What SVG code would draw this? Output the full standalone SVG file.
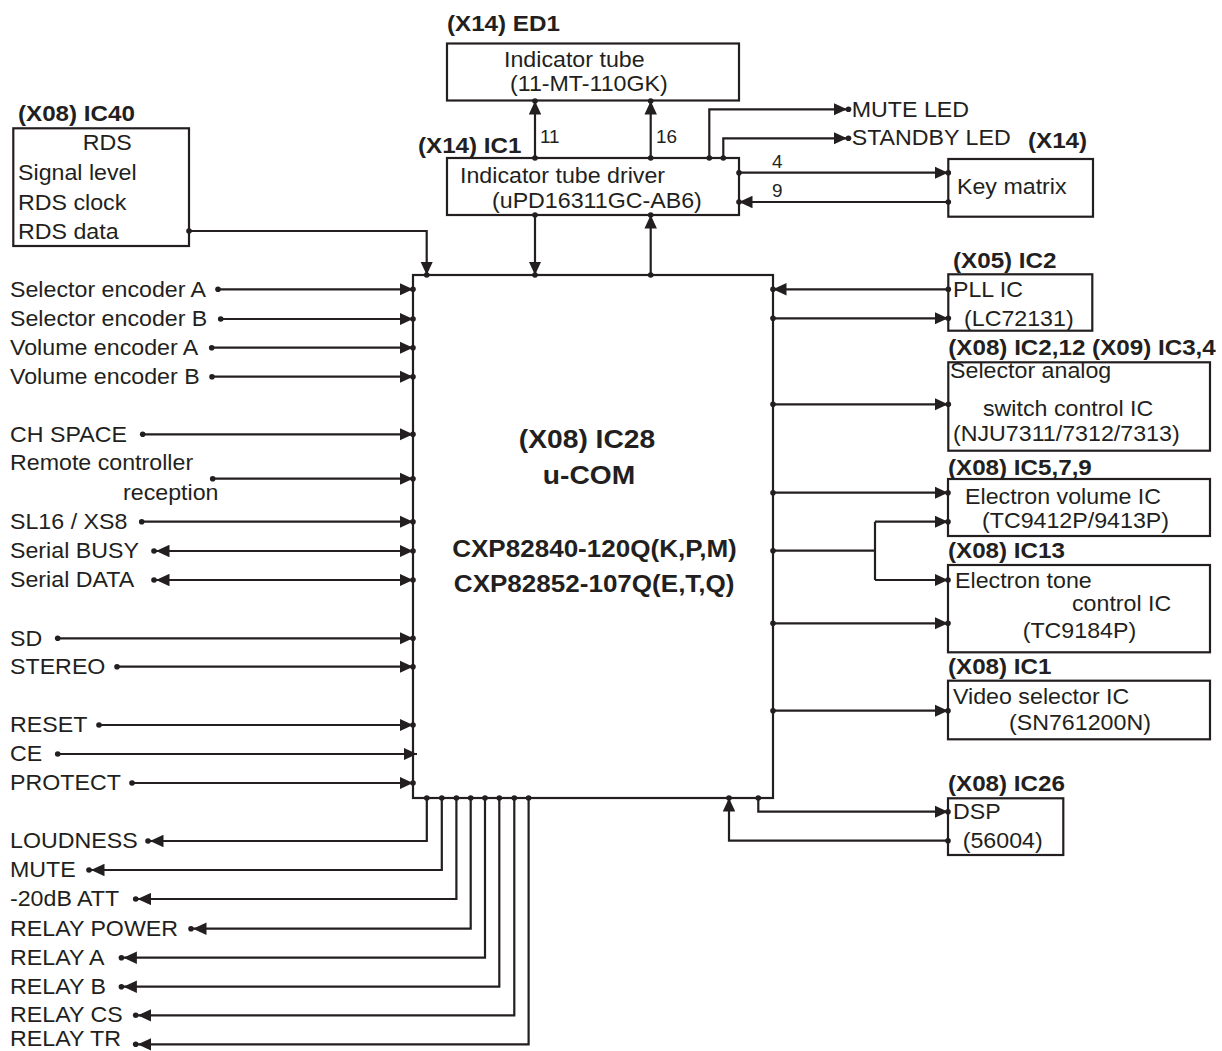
<svg xmlns="http://www.w3.org/2000/svg" width="1222" height="1051" viewBox="0 0 1222 1051">
<style>
.ln{fill:none;stroke:#231f20;stroke-width:2.2}
.ar{marker-end:url(#a)}
.ar2{marker-start:url(#a);marker-end:url(#a)}
.bx{fill:#fff;stroke:#231f20;stroke-width:2.2}
.d{fill:#231f20}
text{font-family:"Liberation Sans",Arial,sans-serif;fill:#231f20}
.t{font-size:22px;transform-box:fill-box;transform-origin:0 0;transform:scaleX(1.055)}
.n{font-size:18px;transform-box:fill-box;transform-origin:0 0;transform:scaleX(1.05)}
.b{font-size:22px;font-weight:bold;transform-box:fill-box;transform-origin:0 0;transform:scaleX(1.1)}
.c{font-size:26px;font-weight:bold;text-anchor:middle;transform-box:fill-box;transform-origin:50% 0;transform:scaleX(1.085)}
.p{font-size:24px;font-weight:bold;text-anchor:middle;transform-box:fill-box;transform-origin:50% 0;transform:scaleX(1.085)}
</style>
<defs>
<marker id="a" viewBox="0 0 13.5 12.5" refX="13.5" refY="6.25" markerWidth="13.5" markerHeight="12.5" orient="auto-start-reverse" markerUnits="userSpaceOnUse"><path d="M0,0L13.5,6.25L0,12.5z" fill="#231f20"/></marker>
</defs>
<rect width="1222" height="1051" fill="#fff"/>

<g id="ed1">
<rect class="bx" x="447" y="43.5" width="292" height="57"/>
<text class="b" x="447" y="31">(X14) ED1</text>
<text class="t" x="504" y="67">Indicator tube</text>
<text class="t" x="510" y="91">(11-MT-110GK)</text>
</g>
<g id="ic1">
<rect class="bx" x="447" y="158" width="292" height="57"/>
<text class="b" x="418" y="153">(X14) IC1</text>
<text class="t" x="460" y="183">Indicator tube driver</text>
<text class="t" x="492" y="208">(uPD16311GC-AB6)</text>
</g>
<g id="keymatrix">
<rect class="bx" x="948.3" y="159" width="144.7" height="57.7"/>
<text class="b" x="1028" y="148">(X14)</text>
<text class="t" x="957" y="194">Key matrix</text>
</g>
<g id="ic40">
<rect class="bx" x="13.3" y="128.3" width="175.7" height="117.7"/>
<text class="b" x="18" y="121">(X08) IC40</text>
<text class="t" x="82.7" y="150">RDS</text>
<text class="t" x="18" y="180">Signal level</text>
<text class="t" x="18" y="210">RDS clock</text>
<text class="t" x="18" y="239">RDS data</text>
</g>
<g id="ucom">
<rect class="bx" x="413" y="275" width="360" height="523"/>
<text class="c" x="587" y="448">(X08) IC28</text>
<text class="c" x="589" y="484">u-COM</text>
<text class="p" x="594.5" y="557">CXP82840-120Q(K,P,M)</text>
<text class="p" x="594.2" y="592">CXP82852-107Q(E,T,Q)</text>
</g>
<g id="pll">
<rect class="bx" x="948.3" y="274.3" width="144" height="56.4"/>
<text class="b" x="953" y="268">(X05) IC2</text>
<text class="t" x="953" y="297">PLL IC</text>
<text class="t" x="964" y="326">(LC72131)</text>
</g>
<g id="selector">
<rect class="bx" x="948.3" y="362.3" width="261.7" height="88.4"/>
<text class="b" x="948.3" y="355">(X08) IC2,12 (X09) IC3,4</text>
<text class="t" x="950" y="378">Selector analog</text>
<text class="t" x="983" y="416.5">switch control IC</text>
<text class="t" x="953" y="441">(NJU7311/7312/7313)</text>
</g>
<g id="volume">
<rect class="bx" x="948" y="479" width="262" height="57"/>
<text class="b" x="948" y="475">(X08) IC5,7,9</text>
<text class="t" x="965" y="504">Electron volume IC</text>
<text class="t" x="982" y="528">(TC9412P/9413P)</text>
</g>
<g id="tone">
<rect class="bx" x="948" y="565" width="262" height="87.3"/>
<text class="b" x="948" y="558">(X08) IC13</text>
<text class="t" x="955" y="588">Electron tone</text>
<text class="t" x="1072" y="611.5">control IC</text>
<text class="t" x="1022.7" y="638.5">(TC9184P)</text>
</g>
<g id="video">
<rect class="bx" x="948" y="680.7" width="262" height="58.6"/>
<text class="b" x="948" y="674">(X08) IC1</text>
<text class="t" x="953" y="704">Video selector IC</text>
<text class="t" x="1009" y="730">(SN761200N)</text>
</g>
<g id="dsp">
<rect class="bx" x="948" y="798.3" width="115.3" height="56.7"/>
<text class="b" x="948" y="791.5">(X08) IC26</text>
<text class="t" x="953" y="819">DSP</text>
<text class="t" x="962.7" y="848">(56004)</text>
</g>

<g id="signals">
<text class="t" x="10" y="297">Selector encoder A</text>
<text class="t" x="10" y="326.5">Selector encoder B</text>
<text class="t" x="10" y="355">Volume encoder A</text>
<text class="t" x="10" y="384">Volume encoder B</text>
<text class="t" x="10" y="442">CH SPACE</text>
<text class="t" x="10" y="470">Remote controller</text>
<text class="t" x="123" y="500">reception</text>
<text class="t" x="10" y="529">SL16 / XS8</text>
<text class="t" x="10" y="558.5">Serial BUSY</text>
<text class="t" x="10" y="587.5">Serial DATA</text>
<text class="t" x="10" y="646">SD</text>
<text class="t" x="10" y="674">STEREO</text>
<text class="t" x="10" y="732.5">RESET</text>
<text class="t" x="10" y="761.5">CE</text>
<text class="t" x="10" y="790.5">PROTECT</text>
<text class="t" x="10" y="848.5">LOUDNESS</text>
<text class="t" x="10" y="877.5">MUTE</text>
<text class="t" x="10" y="906.5">-20dB ATT</text>
<text class="t" x="10" y="936">RELAY POWER</text>
<text class="t" x="10" y="965">RELAY A</text>
<text class="t" x="10" y="994">RELAY B</text>
<text class="t" x="10" y="1022.5">RELAY CS</text>
<text class="t" x="10" y="1046.5">RELAY TR</text>
<text class="t" x="851.7" y="117">MUTE LED</text>
<text class="t" x="851.7" y="145.5">STANDBY LED</text>
</g>

<g id="connectors">
<path class="ln ar" d="M189,231H426.7V275"/>
<path class="ln ar" d="M535,158V101"/>
<path class="ln ar" d="M650.7,158V101"/>
<text class="n" x="540" y="143">11</text>
<text class="n" x="656" y="143">16</text>
<path class="ln ar" d="M709.3,158V109.3H847"/>
<path class="ln ar" d="M723.3,158V138.3H847"/>
<path class="ln ar" d="M739,172.7H948"/>
<path class="ln ar" d="M948,202H739"/>
<text class="n" x="772" y="168">4</text>
<text class="n" x="772" y="197">9</text>
<path class="ln ar" d="M535,215V275"/>
<path class="ln ar" d="M650.7,275V215"/>

<path class="ln ar" d="M218,289.3H413"/>
<path class="ln ar" d="M220.7,319H413"/>
<path class="ln ar" d="M211.7,347.7H413"/>
<path class="ln ar" d="M212,376.7H413"/>
<path class="ln ar" d="M142.7,434.3H413"/>
<path class="ln ar" d="M212.7,478.7H413"/>
<path class="ln ar" d="M141.7,521.7H413"/>
<path class="ln ar2" d="M156,551H413"/>
<path class="ln ar2" d="M156,580H413"/>
<path class="ln ar" d="M57.7,638.3H413"/>
<path class="ln ar" d="M117,666.7H413"/>
<path class="ln ar" d="M99,725H413"/>
<path class="ln ar" d="M57.7,754H417"/>
<path class="ln ar" d="M132,783H413"/>

<path class="ln ar" d="M426.8,798V841H150"/>
<path class="ln ar" d="M441.8,798V870H91"/>
<path class="ln ar" d="M456.4,798V899H137.7"/>
<path class="ln ar" d="M470.7,798V928.7H193"/>
<path class="ln ar" d="M485,798V957.7H123.4"/>
<path class="ln ar" d="M499.3,798V986.7H123.4"/>
<path class="ln ar" d="M514.3,798V1015.3H137.7"/>
<path class="ln ar" d="M528.6,798V1044.3H137.7"/>

<path class="ln ar" d="M948.3,289.3H773"/>
<path class="ln ar" d="M773,318.3H948"/>
<path class="ln ar" d="M773,404.3H948"/>
<path class="ln ar" d="M773,492.7H948"/>
<path class="ln" d="M773,550.7H875M875,521.7V580"/>
<path class="ln ar" d="M875,521.7H948"/>
<path class="ln ar" d="M875,580H948"/>
<path class="ln ar" d="M773,623.3H948"/>
<path class="ln ar" d="M773,710.7H948"/>
<path class="ln ar" d="M758.3,798V811.7H948"/>
<path class="ln ar" d="M948,840.7H729V798"/>

<g class="d">
<circle cx="189" cy="231" r="2.8"/><circle cx="426.7" cy="275" r="2.8"/>
<circle cx="535" cy="158" r="2.8"/><circle cx="535" cy="101" r="2.8"/>
<circle cx="650.7" cy="158" r="2.8"/><circle cx="650.7" cy="101" r="2.8"/>
<circle cx="709.3" cy="158" r="2.8"/><circle cx="723.3" cy="158" r="2.8"/>
<circle cx="848.5" cy="109.3" r="2.8"/><circle cx="848.5" cy="138.3" r="2.8"/>
<circle cx="739" cy="172.7" r="2.8"/><circle cx="948.3" cy="172.7" r="2.8"/>
<circle cx="739" cy="202" r="2.8"/><circle cx="948.3" cy="202" r="2.8"/>
<circle cx="535" cy="215" r="2.8"/><circle cx="535" cy="275" r="2.8"/>
<circle cx="650.7" cy="215" r="2.8"/><circle cx="650.7" cy="275" r="2.8"/>

<circle cx="218" cy="289.3" r="2.8"/><circle cx="413" cy="289.3" r="2.8"/>
<circle cx="220.7" cy="319" r="2.8"/><circle cx="413" cy="319" r="2.8"/>
<circle cx="211.7" cy="347.7" r="2.8"/><circle cx="413" cy="347.7" r="2.8"/>
<circle cx="212" cy="376.7" r="2.8"/><circle cx="413" cy="376.7" r="2.8"/>
<circle cx="142.7" cy="434.3" r="2.8"/><circle cx="413" cy="434.3" r="2.8"/>
<circle cx="212.7" cy="478.7" r="2.8"/><circle cx="413" cy="478.7" r="2.8"/>
<circle cx="141.7" cy="521.7" r="2.8"/><circle cx="413" cy="521.7" r="2.8"/>
<circle cx="154" cy="551" r="2.8"/><circle cx="413" cy="551" r="2.8"/>
<circle cx="154" cy="580" r="2.8"/><circle cx="413" cy="580" r="2.8"/>
<circle cx="57.7" cy="638.3" r="2.8"/><circle cx="413" cy="638.3" r="2.8"/>
<circle cx="117" cy="666.7" r="2.8"/><circle cx="413" cy="666.7" r="2.8"/>
<circle cx="99" cy="725" r="2.8"/><circle cx="413" cy="725" r="2.8"/>
<circle cx="57.7" cy="754" r="2.8"/>
<circle cx="132" cy="783" r="2.8"/><circle cx="413" cy="783" r="2.8"/>

<circle cx="426.8" cy="798" r="2.8"/><circle cx="441.8" cy="798" r="2.8"/>
<circle cx="456.4" cy="798" r="2.8"/><circle cx="470.7" cy="798" r="2.8"/>
<circle cx="485" cy="798" r="2.8"/><circle cx="499.3" cy="798" r="2.8"/>
<circle cx="514.3" cy="798" r="2.8"/><circle cx="528.6" cy="798" r="2.8"/>
<circle cx="148" cy="841" r="2.8"/><circle cx="89" cy="870" r="2.8"/>
<circle cx="135.7" cy="899" r="2.8"/><circle cx="191" cy="928.7" r="2.8"/>
<circle cx="121.4" cy="957.7" r="2.8"/><circle cx="121.4" cy="986.7" r="2.8"/>
<circle cx="135.7" cy="1015.3" r="2.8"/><circle cx="135.7" cy="1044.3" r="2.8"/>

<circle cx="948.3" cy="289.3" r="2.8"/><circle cx="773" cy="289.3" r="2.8"/>
<circle cx="773" cy="318.3" r="2.8"/><circle cx="948.3" cy="318.3" r="2.8"/>
<circle cx="773" cy="404.3" r="2.8"/><circle cx="948.3" cy="404.3" r="2.8"/>
<circle cx="773" cy="492.7" r="2.8"/><circle cx="948" cy="492.7" r="2.8"/>
<circle cx="773" cy="550.7" r="2.8"/>
<circle cx="948" cy="521.7" r="2.8"/><circle cx="948" cy="580" r="2.8"/>
<circle cx="773" cy="623.3" r="2.8"/><circle cx="948" cy="623.3" r="2.8"/>
<circle cx="773" cy="710.7" r="2.8"/><circle cx="948" cy="710.7" r="2.8"/>
<circle cx="758.3" cy="798" r="2.8"/><circle cx="948" cy="811.7" r="2.8"/>
<circle cx="948" cy="840.7" r="2.8"/><circle cx="729" cy="798" r="2.8"/>
</g>
</g>
</svg>
